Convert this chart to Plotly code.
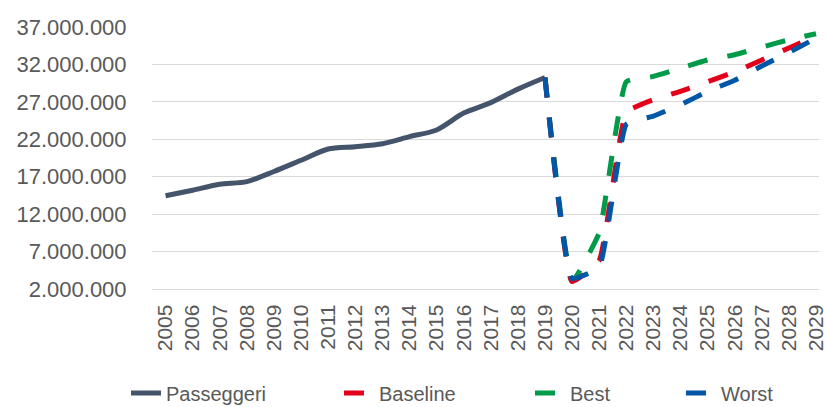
import plotly.graph_objects as go

years = [str(y) for y in range(2005, 2030)]
hist_years = years[:15]            # 2005-2019
scen_years = years[14:]            # 2019-2029

passeggeri = [14.45e6, 15.2e6, 16.0e6, 16.35e6, 17.7e6, 19.2e6, 20.7e6, 21.0e6,
              21.4e6, 22.35e6, 23.25e6, 25.5e6, 26.9e6, 28.7e6, 30.25e6]
baseline = [30.25e6, 3.0e6, 5.8e6, 25.6e6, 27.3e6, 28.4e6, 29.7e6, 31.0e6, 32.6e6, 34.2e6, 35.8e6]
best = [30.25e6, 3.0e6, 9.5e6, 29.7e6, 30.4e6, 31.5e6, 32.6e6, 33.3e6, 34.3e6, 35.3e6, 36.1e6]
worst = [30.25e6, 3.4e6, 4.9e6, 24.0e6, 25.1e6, 26.6e6, 28.4e6, 29.9e6, 31.8e6, 33.6e6, 35.5e6]

y_tickvals = [2e6, 7e6, 12e6, 17e6, 22e6, 27e6, 32e6, 37e6]
y_ticktext = ["2.000.000", "7.000.000", "12.000.000", "17.000.000",
              "22.000.000", "27.000.000", "32.000.000", "37.000.000"]

C_GRAY = "#44546A"
C_RED = "#E3001B"
C_GREEN = "#009B48"
C_BLUE = "#0057A8"
DASH = "20px,20px"
SM = 0.35

W, H = 827, 407

fig = go.Figure()
fig.add_trace(go.Scatter(x=hist_years, y=passeggeri, name="Passeggeri", mode="lines",
                         line=dict(color=C_GRAY, width=5, shape="spline", smoothing=0.8),
                         legend="legend"))
fig.add_trace(go.Scatter(x=scen_years, y=best, name="Best", mode="lines",
                         line=dict(color=C_GREEN, width=5, dash=DASH, shape="spline", smoothing=SM),
                         legend="legend3"))
fig.add_trace(go.Scatter(x=scen_years, y=baseline, name="Baseline", mode="lines",
                         line=dict(color=C_RED, width=5, dash=DASH, shape="spline", smoothing=SM),
                         legend="legend2"))
fig.add_trace(go.Scatter(x=scen_years, y=worst, name="Worst", mode="lines",
                         line=dict(color=C_BLUE, width=5, dash=DASH, shape="spline", smoothing=SM),
                         legend="legend4"))

font_family = "Liberation Sans, Arial, sans-serif"
legend_text_starts = [166, 379, 570, 721]


def leg(px):
    return dict(orientation="h", xref="container", yref="container",
                x=(px - 40) / W, xanchor="left", y=(H - 393) / H, yanchor="middle",
                font=dict(size=20, color="#595959", family=font_family),
                bgcolor="rgba(0,0,0,0)")


fig.update_layout(
    width=W, height=H,
    margin=dict(l=152, r=0, t=27, b=118),
    paper_bgcolor="white", plot_bgcolor="white",
    font=dict(family=font_family, color="#595959", size=21),
    showlegend=True,
    legend=leg(legend_text_starts[0]),
    legend2=leg(legend_text_starts[1]),
    legend3=leg(legend_text_starts[2]),
    legend4=leg(legend_text_starts[3]),
)
fig.update_xaxes(type="category", categoryorder="array", categoryarray=years,
                 range=[-0.5, 24.11], tickangle=-90, showgrid=False,
                 showline=True, linecolor="#d9d9d9", linewidth=1.3,
                 ticks="outside", ticklen=6, tickcolor="rgba(0,0,0,0)",
                 tickfont=dict(size=21, color="#595959"), zeroline=False)
fig.update_yaxes(range=[2e6, 37e6], tickvals=y_tickvals, ticktext=y_ticktext,
                 showgrid=True, gridcolor="#d9d9d9", gridwidth=1.3,
                 ticks="outside", ticklen=20, tickcolor="rgba(0,0,0,0)",
                 tickfont=dict(size=22, color="#595959"), zeroline=False)

fig.write_html("out.html")
